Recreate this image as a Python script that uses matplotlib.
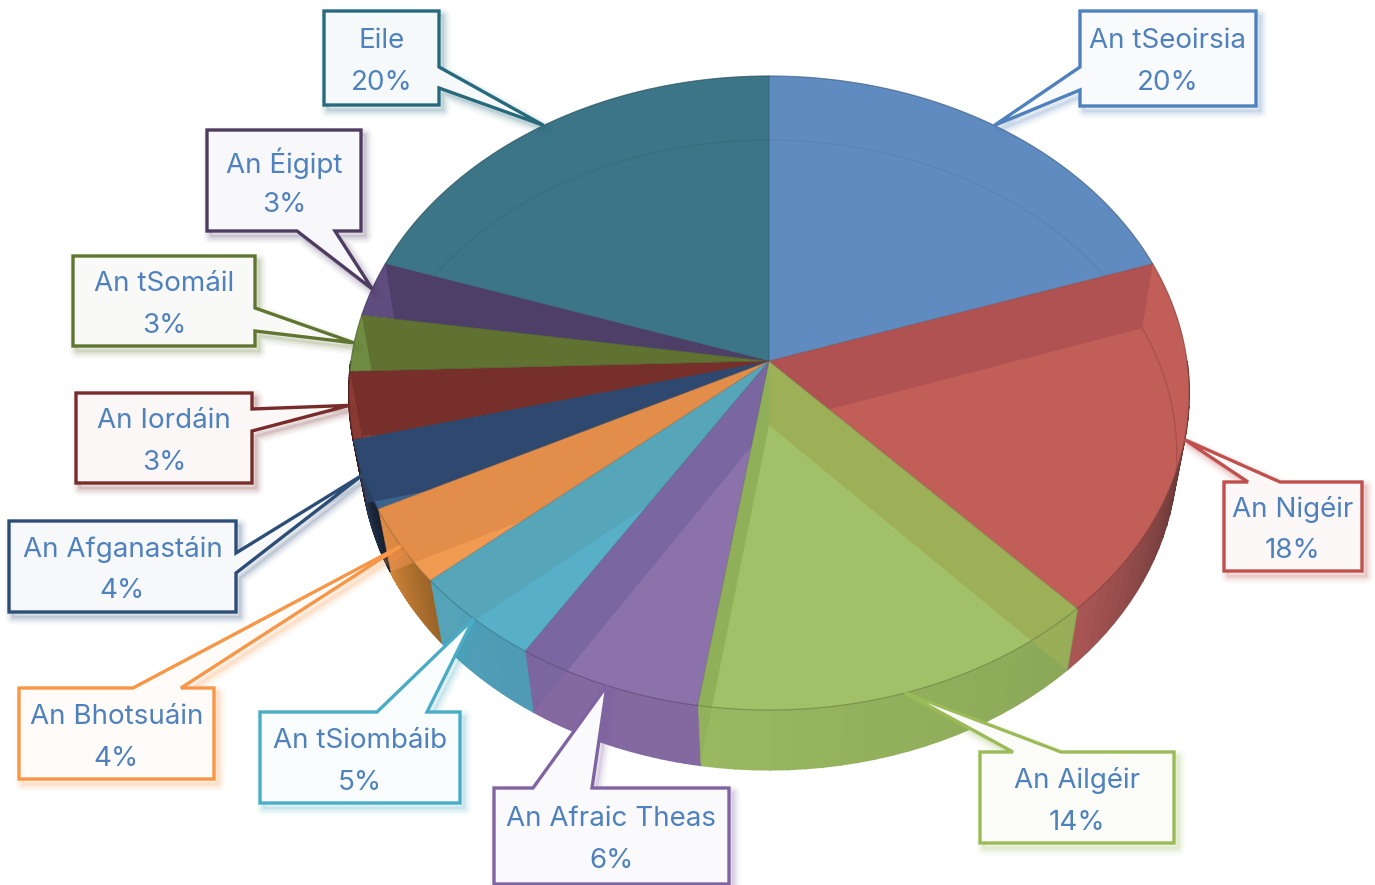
import numpy as np
import matplotlib
matplotlib.use("Agg")
import matplotlib.pyplot as plt
from matplotlib.patches import Polygon
from matplotlib.colors import to_rgb

# slices, clockwise from the top (estimated shares, the labels are rounded)
names = ["An tSeoirsia", "An Nigéir", "An Ailgéir", "An Afraic Theas", "An tSiombáib", "An Bhotsuáin",
         "An Afganastáin", "An Iordáin", "An tSomáil", "An Éigipt", "Eile"]
values = [19.8, 18.2, 14.4, 6.5, 4.7, 3.9, 3.5, 3.4, 2.9, 2.8, 19.8]
percents = ["20%", "18%", "14%", "6%", "5%", "4%", "4%", "3%", "3%", "3%", "20%"]

top_colors = ["#5f8bc0", "#c25e58", "#a2c068", "#8b72aa", "#58b0c8", "#f09a52",
              "#3d638f", "#8a3b34", "#6f8c42", "#5f4d80", "#3c7587"]
wall_colors = ["#5f8bc0", "#b05252", "#9db057", "#7a66a0", "#56a5b8", "#e38d4a",
               "#2f486f", "#762f2a", "#5f7232", "#4d3f68", "#3c7587"]
wall_end_colors = ["#5f8bc0", "#b05252", "#8fb058", "#7a66a0", "#56a5b8", "#e38d4a",
                   "#2f486f", "#762f2a", "#5f7232", "#4d3f68", "#3c7587"]
side_from = ["#1c2c44", "#4a2a2a", "#8aa858", "#8468a0", "#4f9ab4", "#9a6428",
             "#16202f", "#3a1a18", "#303a18", "#2a2238", "#1e3a44"]
side_to = ["#1c2c44", "#a85654", "#9ab860", "#8468a0", "#4f9fb8", "#d08438",
           "#24364f", "#3a1a18", "#303a18", "#2a2238", "#1e3a44"]
edge_colors = ["#4f81bd", "#c0504d", "#9bbb59", "#8064a2", "#4bacc6", "#f79646",
               "#2c4d75", "#772c2a", "#5f7530", "#4d3b62", "#276a7c"]
text_color = "#4f81bd"

# callout boxes (x0, y0, x1, y1) in pixels and the two points where the pointer leaves the box
boxes = [(1080, 11, 1256, 106), (1224, 482, 1362, 571), (980, 752, 1174, 843), (494, 788, 729, 884),
         (260, 712, 460, 803), (19, 688, 214, 779), (9, 521, 236, 612), (76, 393, 252, 483),
         (73, 256, 255, 346), (207, 130, 361, 231), (324, 11, 439, 105)]
bases = [((1080, 90), (1080, 67)), ((1248, 482), (1280, 482)), ((1013, 752), (1061, 752)), ((533, 788), (592, 788)),
         ((377, 712), (427, 712)), ((133, 688), (181, 688)), ((236, 553), (236, 573)), ((252, 409), (252, 431)),
         ((255, 308), (255, 331)), ((297, 231), (335, 231)), ((439, 67), (439, 88))]

# projection of the two discs
top_disc = dict(cx=769, cy=361, bx=418, ay=313.8, k=0.101)
low_disc = dict(cx=769, cy=425, bx=406, ay=312.0, k=0.095)


def project(deg, disc, r=1.0):
    t = np.radians(deg)
    x = r * np.sin(t)
    y = r * np.cos(t)
    w = 1 + disc["k"] * y
    return np.column_stack([disc["cx"] + disc["bx"] * x / w, disc["cy"] - disc["ay"] * y / w])


def arc(a0, a1, disc):
    n = max(int(abs(a1 - a0)) * 2, 2)
    return project(np.linspace(a0, a1, n), disc)


def apex(disc):
    return [[disc["cx"], disc["cy"]]]


def mix(c0, c1, f):
    return tuple((1 - f) * a + f * b for a, b in zip(to_rgb(c0), to_rgb(c1)))


fig = plt.figure(figsize=(13.75, 8.85), dpi=100)
ax = fig.add_axes([0, 0, 1, 1])
ax.set_xlim(0, 1375)
ax.set_ylim(885, 0)
ax.axis("off")
plt.rcParams["font.family"] = ["Inter", "DejaVu Sans"]

edges = np.concatenate([[0], np.cumsum(values)]) * 360 / sum(values)

# outer wall of the front half first, everything else sits on it
side_clips = []
for i in range(len(values)):
    a0, a1 = max(edges[i], 90), min(edges[i + 1], 270)
    if a1 <= a0:
        side_clips.append(None)
        continue
    angles = np.linspace(a0, a1, 24)
    for j in range(len(angles) - 1):
        quad = np.vstack([project(angles[j:j + 2], top_disc), project(angles[j:j + 2], low_disc)[::-1]])
        c = mix(side_from[i], side_to[i], j / 22)
        ax.add_patch(Polygon(quad, fc=c, ec=c, lw=1.2, zorder=1))
    side_clips.append(np.vstack([arc(a0, a1, top_disc), arc(a0, a1, low_disc)[::-1]]))

for i in range(len(values)):
    a0, a1 = edges[i], edges[i + 1]
    wedge = np.vstack([apex(top_disc), arc(a0, a1, top_disc)])
    face = Polygon(wedge, fc=top_colors[i], ec="none", zorder=2)
    ax.add_patch(face)

    # the inner walls show through the glassy top
    walls = []
    if 0 < a0 < 180:
        walls.append((a0, wall_colors[i]))
    if 180 < a1 < 360:
        walls.append((a1, wall_end_colors[i]))
    for a, col in walls:
        quad = np.vstack([apex(top_disc), project(a, top_disc), project(a, low_disc), apex(low_disc)])
        p = Polygon(quad, fc=col, ec="none", zorder=3)
        ax.add_patch(p)
        p.set_clip_path(face)
        if side_clips[i] is not None:
            side_patch = Polygon(side_clips[i], fc="none", ec="none", zorder=1)
            ax.add_patch(side_patch)
            p2 = Polygon(quad, fc=col, ec="none", alpha=0.75, zorder=3)
            ax.add_patch(p2)
            p2.set_clip_path(side_patch)

    # faint rim of the lower disc seen through the top
    low = arc(a0, a1, low_disc)
    far = np.cos(np.radians((a0 + a1) / 2)) > 0
    line, = ax.plot(low[:, 0], low[:, 1], color="black", alpha=0.05 if far else 0.13, lw=1, zorder=4)
    line.set_clip_path(face)

    # edges of the top face
    dark = mix(top_colors[i], "black", 0.3)
    ax.add_patch(Polygon(wedge, fc="none", ec=dark, lw=0.7, alpha=0.35, zorder=5))
    rim = arc(a0, a1, top_disc)
    ax.plot(rim[:, 0], rim[:, 1], color=dark, lw=0.8, alpha=0.6, zorder=5)

# callouts
for i in range(len(values)):
    x0, y0, x1, y1 = boxes[i]
    tip = project((edges[i] + edges[i + 1]) / 2, top_disc)[0]
    b0, b1 = bases[i]
    pts = [(x0, y0)]
    if b0[1] == y0:
        pts += [b0, tip, b1]
    pts.append((x1, y0))
    if b0[0] == x1:
        pts += [b0, tip, b1]
    pts.append((x1, y1))
    if b0[1] == y1:
        pts += [b1, tip, b0]
    pts.append((x0, y1))
    if b0[0] == x0:
        pts += [b0, tip, b1]
    pts = np.array(pts, dtype=float)

    # soft shadow
    for lw, al in [(11, 0.04), (8, 0.06), (5, 0.09), (2, 0.14)]:
        ax.add_patch(Polygon(pts + [4, 5], fc="none", ec=edge_colors[i], lw=lw, alpha=al, joinstyle="round", zorder=6))
    ax.add_patch(Polygon(pts, fc=mix(edge_colors[i], "white", 0.96), ec=edge_colors[i], lw=2.4,
                         joinstyle="miter", zorder=7))

    xc = (x0 + x1) / 2
    yc = (y0 + y1) / 2 + 4
    ax.text(xc, yc - 21, names[i], color=text_color, fontsize=20, ha="center", va="center", zorder=8)
    ax.text(xc, yc + 21, percents[i], color=text_color, fontsize=20, ha="center", va="center", zorder=8)

fig.savefig("out.png", dpi=100)
